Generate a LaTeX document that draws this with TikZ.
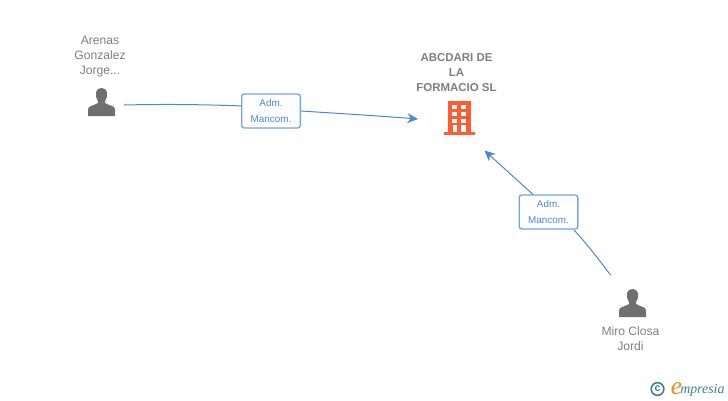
\documentclass[tikz,border=0pt]{standalone}
\usepackage{fontspec}
\setmainfont{Liberation Sans}
\newfontfamily\logofont{Liberation Serif}
\usetikzlibrary{arrows.meta}
\definecolor{linkblue}{HTML}{4A86E0}
\definecolor{greytext}{HTML}{7F7F7F}
\definecolor{greyicon}{HTML}{6F6F6F}
\definecolor{orangebuild}{HTML}{FF5C33}
\definecolor{logoteal}{HTML}{3F7F96}
\definecolor{logoorange}{HTML}{F08A1D}
\tikzset{
  namelabel/.style={text=greytext,font=\fontsize{9.1}{11.25}\selectfont,align=center,inner sep=0pt},
  firmlabel/.style={text=greytext,font=\fontsize{8.6}{11.25}\selectfont\bfseries,align=center,inner sep=0pt},
  rolebox/.style={draw=linkblue!75,line width=1pt,rounded corners=2pt,fill=white,text=linkblue,
    font=\fontsize{7.4}{11.4}\selectfont,align=center,inner sep=0pt,text depth=0pt,minimum width=44pt,minimum height=25.5pt},
  link/.style={linkblue,line width=0.75pt},
  person/.pic={
    \fill[greyicon] (-13.5,14) -- (-13.5,7.5) .. controls (-13.5,3.5) and (-8,4) .. (-3.5,1)
      -- (-3.5,-1) .. controls (-7.5,-7) and (-6,-14) .. (0,-14) .. controls (6,-14) and (7.5,-7) .. (3.5,-1)
      -- (3.5,1) .. controls (8,4) and (13.5,3.5) .. (13.5,7.5) -- (13.5,14) -- cycle;
  }
}
\begin{document}
\begin{tikzpicture}[x=0.75pt,y=-0.75pt]
  \useasboundingbox (0,0) rectangle (728,400);
  % people and firm
  \node[namelabel] (arenas) at (100,57) {Arenas\\Gonzalez\\Jorge...};
  \node[firmlabel] (firm) at (456.5,73) {ABCDARI DE\\LA\\FORMACIO SL};
  \node[namelabel] (miro) at (630.5,339) {Miro Closa\\Jordi};
  \path (101.5,102) pic {person};
  \path (632.5,303) pic {person};
  % building
  \fill[orangebuild] (447.7,101) rectangle (470.7,133);
  \fill[orangebuild] (443.5,131.7) rectangle (475.3,135);
  \foreach \row in {105,111.7,118.5}{
    \fill[white] (451.7,\row) rectangle (456.7,\row+4);
    \fill[white] (461,\row) rectangle (466,\row+4);
  }
  \fill[white] (452.5,125) rectangle (456.7,131.7);
  \fill[white] (461,125) rectangle (466,131.7);
  % connectors
  \node[rolebox] (roleA) at (271,111) {Adm.\\Mancom.};
  \node[rolebox] (roleB) at (548.5,212) {Adm.\\Mancom.};
  \coordinate (arenasend) at (124,105);
  \coordinate (roleAin) at (242,106);
  \coordinate (firmwest) at (418,119);
  \coordinate (firmsouth) at (484.5,150.5);
  \coordinate (miroend) at (610.5,275);
  \coordinate (roleBin) at (574,230);
  \coordinate (roleBout) at (533,194.5);
  \draw[link] (arenasend) .. controls (165,104) and (205,104.5) .. (roleAin);
  \draw[link,-{Stealth[length=8pt,width=7.5pt]}] (roleA.east) .. controls (340,113.5) and (380,116) .. (firmwest);
  \draw[link] (miroend) .. controls (600,261) and (587,244) .. (roleBin);
  \draw[link,-{Stealth[length=8pt,width=7.5pt]}] (roleBout) -- (firmsouth);
  % logo
  \node[draw=logoteal,line width=1.2pt,circle,minimum size=9.5pt,inner sep=0pt,text=logoteal,
    font=\fontsize{8}{8}\selectfont\bfseries] (copyr) at (657.5,389) {c};
  \node[anchor=base west,inner sep=0pt,text=logoorange,font=\fontsize{19}{19}\logofont\itshape] (logoe) at (670.5,394) {e};
  \node[anchor=base west,inner sep=0pt,text=logoteal,font=\fontsize{10.4}{11}\logofont\itshape] (logotext) at (680,393.5) {mpresia};
\end{tikzpicture}
\end{document}
